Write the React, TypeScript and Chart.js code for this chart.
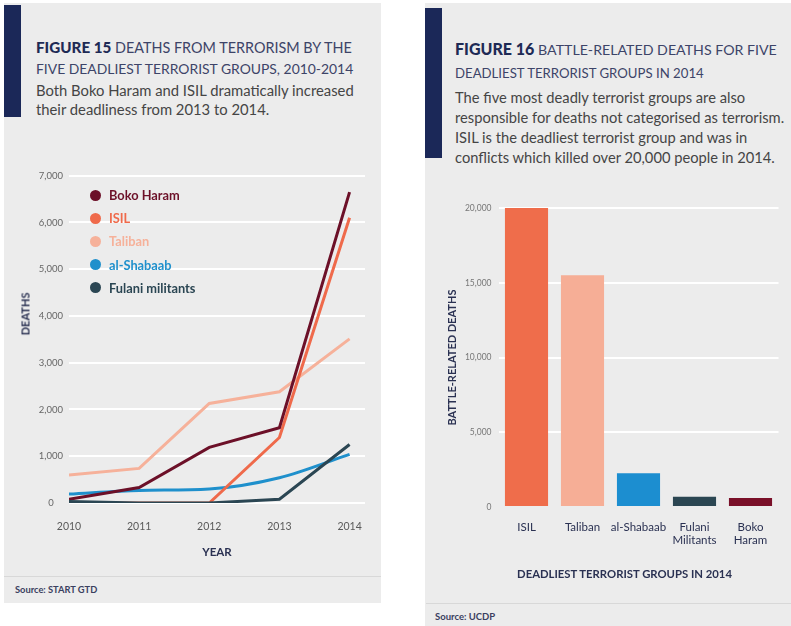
import React, { useEffect, useRef } from "react";
import { Chart, registerables } from "chart.js";

Chart.register(...registerables);

// ---------- Figure 15 data ----------
const years = [2010, 2011, 2012, 2013, 2014];
const seriesNames = ["Boko Haram", "ISIL", "Taliban", "al-Shabaab", "Fulani militants"];
const bokoHaram = [80, 330, 1190, 1610, 6650];
const isil = [0, 0, 0, 1400, 6100];
const taliban = [600, 740, 2130, 2380, 3510];
const alShabaab = [190, 270, 300, 540, 1040];
const fulani = [30, 0, 0, 80, 1250];
const seriesColors = ["#6c1028", "#ef6a4b", "#f6b19a", "#1f90cc", "#2b4653"];
const deathTicks = [0, 1000, 2000, 3000, 4000, 5000, 6000, 7000];

// ---------- Figure 16 data ----------
const groups2014 = [["ISIL"], ["Taliban"], ["al-Shabaab"], ["Fulani", "Militants"], ["Boko", "Haram"]];
const battleDeaths = [20100, 15500, 2250, 680, 600];
const barColors = ["#ef6d4b", "#f6ae96", "#1c8ed0", "#2b4652", "#7a1029"];
const battleTicks = [0, 5000, 10000, 15000, 20000];

const FONT = "Lato, 'Open Sans', sans-serif";
const NAVY = "#2a3152";

function LineChart() {
  const ref = useRef<HTMLCanvasElement>(null);
  useEffect(() => {
    if (!ref.current) return;
    const all = [bokoHaram, isil, taliban, alShabaab, fulani];
    const chart = new Chart(ref.current, {
      type: "line",
      data: {
        datasets: all.map((vals, i) => ({
          label: seriesNames[i],
          data: years.map((x, j) => ({ x, y: vals[j] })),
          borderColor: seriesColors[i],
          backgroundColor: seriesColors[i],
          borderWidth: 3,
          pointRadius: 0,
          tension: i === 3 ? 0.4 : 0,
          cubicInterpolationMode: i === 3 ? "monotone" : "default",
          order: i === 4 ? 0 : 1,
        })),
      },
      options: {
        animation: false,
        responsive: false,
        layout: { padding: { top: 10, right: 16, left: 0, bottom: 0 } },
        plugins: { legend: { display: false }, tooltip: { enabled: false } },
        scales: {
          x: {
            type: "linear",
            min: years[0],
            max: 2014.22,
            afterBuildTicks: (s: any) => {
              s.ticks = years.map((v) => ({ value: v }));
            },
            afterFit: (s: any) => {
              s.height = 57;
            },
            grid: { display: false },
            border: { display: false },
            ticks: {
              callback: (v: any) => String(v),
              font: { family: FONT, size: 10.5 },
              color: "#5a5a5a",
              padding: 9,
              maxRotation: 0,
              autoSkip: false,
            },
            title: {
              display: true,
              text: "YEAR",
              font: { family: FONT, size: 11.5, weight: "bold" },
              color: NAVY,
              padding: { top: 0, bottom: 1 },
            },
          },
          y: {
            min: 0,
            max: 7000,
            afterBuildTicks: (s: any) => {
              s.ticks = deathTicks.map((v) => ({ value: v }));
            },
            afterFit: (s: any) => {
              s.width = 65;
            },
            grid: { color: "#ffffff", lineWidth: 2, drawTicks: false },
            border: { display: false },
            ticks: {
              callback: (v: any) => Number(v).toLocaleString("en-US"),
              font: { family: FONT, size: 9.5 },
              color: "#666666",
              padding: 6,
              crossAlign: "center",
            },
            title: { display: false },
          },
        },
      },
    } as any);
    return () => chart.destroy();
  }, []);
  return <canvas ref={ref} width={377} height={396} style={{ position: "absolute", left: 4, top: 164 }} />;
}

function BarChart() {
  const ref = useRef<HTMLCanvasElement>(null);
  useEffect(() => {
    if (!ref.current) return;
    const chart = new Chart(ref.current, {
      type: "bar",
      data: {
        labels: groups2014,
        datasets: [
          {
            data: battleDeaths,
            backgroundColor: barColors,
            barPercentage: 0.77,
            categoryPercentage: 1,
          },
        ],
      },
      options: {
        animation: false,
        responsive: false,
        layout: { padding: { top: 12, right: 12.5, left: 0, bottom: 0 } },
        plugins: { legend: { display: false }, tooltip: { enabled: false } },
        scales: {
          x: {
            afterFit: (s: any) => {
              s.height = 75;
            },
            grid: { display: false },
            border: { display: false },
            ticks: {
              font: { family: FONT, size: 11.5 },
              color: NAVY,
              padding: 5,
              maxRotation: 0,
              autoSkip: false,
            },
            title: { display: false },
          },
          y: {
            min: 0,
            max: 20000,
            afterBuildTicks: (s: any) => {
              s.ticks = battleTicks.map((v) => ({ value: v }));
            },
            afterFit: (s: any) => {
              s.width = 72.5;
            },
            grid: {
              color: (c: any) => (c.tick && c.tick.value === 0 ? "rgba(0,0,0,0)" : "#ffffff"),
              lineWidth: 2,
              drawTicks: false,
            },
            border: { display: false },
            ticks: {
              callback: (v: any) => Number(v).toLocaleString("en-US"),
              font: { family: FONT, size: 8.5 },
              color: "#777777",
              padding: 7,
            },
            title: {
              display: true,
              text: "BATTLE-RELATED DEATHS",
              font: { family: FONT, size: 11, weight: "bold" },
              color: NAVY,
              padding: { top: 20, bottom: 0 },
            },
          },
        },
      },
    } as any);
    return () => chart.destroy();
  }, []);
  return <canvas ref={ref} width={365} height={386} style={{ position: "absolute", left: 426, top: 196 }} />;
}

const abs = (o: React.CSSProperties): React.CSSProperties => ({ position: "absolute", ...o });

export default function App() {
  return (
    <div style={abs({ left: 0, top: 0, width: 791, height: 626, background: "#ffffff", fontFamily: FONT, overflow: "hidden" })}>
      {/* Left panel */}
      <div style={abs({ left: 4, top: 3, width: 377, height: 600, background: "#ececec" })} />
      <div style={abs({ left: 4, top: 5, width: 17, height: 112, background: "#1b2858" })} />
      <div style={abs({ left: 36, top: 37, lineHeight: "21px", fontSize: 14.4, color: "#3d4468", whiteSpace: "nowrap" })}>
        <span style={{ fontWeight: 900, color: "#1e2a55", fontSize: 15.2 }}>FIGURE 15</span> DEATHS FROM TERRORISM BY THE
        <br />
        <span style={{ fontSize: 13.9 }}>FIVE DEADLIEST TERRORIST GROUPS, 2010-2014</span>
      </div>
      <div style={abs({ left: 36, top: 80.5, lineHeight: "19.5px", fontSize: 14.8, color: "#454545", whiteSpace: "nowrap" })}>
        Both Boko Haram and ISIL dramatically increased
        <br />
        their deadliness from 2013 to 2014.
      </div>
      <LineChart />
      <div style={abs({ left: 25, top: 314, width: 0, height: 0 })}>
        <div style={abs({ left: 0, top: 0, transform: "translate(-50%, -50%) rotate(-90deg)", fontSize: 11, fontWeight: 700, color: NAVY, whiteSpace: "nowrap", lineHeight: "13px" })}>DEATHS</div>
      </div>
      {seriesNames.map((n, i) => (
        <div key={n} style={abs({ left: 90, top: 195 + i * 23.2 - 8, height: 16, display: "flex", alignItems: "center", whiteSpace: "nowrap" })}>
          <span style={{ width: 11, height: 11, borderRadius: "50%", background: seriesColors[i], display: "inline-block", marginRight: 8 }} />
          <span style={{ fontSize: 12.8, fontWeight: 700, color: seriesColors[i] }}>{n}</span>
        </div>
      ))}
      <div style={abs({ left: 4, top: 576, width: 377, height: 1, background: "#d8d8d8" })} />
      <div style={abs({ left: 15, top: 584, fontSize: 9.3, fontWeight: 700, color: "#3a4060", whiteSpace: "nowrap" })}>Source: START GTD</div>

      {/* Right panel */}
      <div style={abs({ left: 425, top: 3, width: 366, height: 623, background: "#ececec" })} />
      <div style={abs({ left: 425, top: 8, width: 17, height: 150, background: "#1b2858" })} />
      <div style={abs({ left: 455, top: 37, lineHeight: "23.4px", fontSize: 14.2, color: "#3d4468", whiteSpace: "nowrap" })}>
        <span style={{ fontWeight: 900, color: "#1e2a55", fontSize: 16 }}>FIGURE 16</span> BATTLE-RELATED DEATHS FOR FIVE
        <br />
        <span style={{ fontSize: 13.2 }}>DEADLIEST TERRORIST GROUPS IN 2014</span>
      </div>
      <div style={abs({ left: 455, top: 87, lineHeight: "20px", fontSize: 14.7, color: "#454545", whiteSpace: "nowrap" })}>
        The five most deadly terrorist groups are also
        <br />
        responsible for deaths not categorised as terrorism.
        <br />
        ISIL is the deadliest terrorist group and was in
        <br />
        conflicts which killed over 20,000 people in 2014.
      </div>
      <BarChart />
      <div style={abs({ left: 624.5, top: 574, width: 0, height: 0 })}>
        <div style={abs({ left: 0, top: 0, transform: "translate(-50%, -50%)", fontSize: 11.3, fontWeight: 700, color: NAVY, whiteSpace: "nowrap", lineHeight: "14px" })}>DEADLIEST TERRORIST GROUPS IN 2014</div>
      </div>
      <div style={abs({ left: 426, top: 603, width: 365, height: 1, background: "#d8d8d8" })} />
      <div style={abs({ left: 435, top: 611, fontSize: 9.5, fontWeight: 700, color: "#3a4060", whiteSpace: "nowrap" })}>Source: UCDP</div>
    </div>
  );
}
